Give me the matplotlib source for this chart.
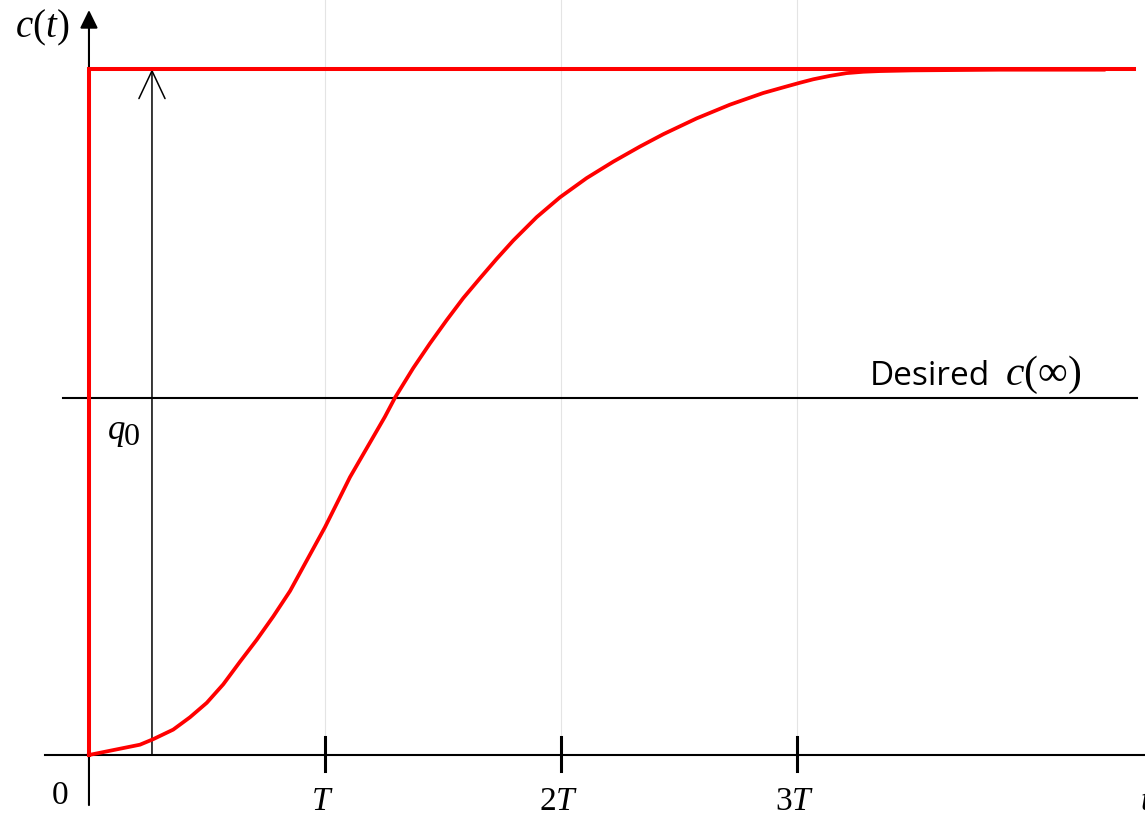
import matplotlib
matplotlib.use("Agg")
import matplotlib.pyplot as plt

plt.rcParams['mathtext.fontset'] = 'custom'
plt.rcParams['mathtext.rm'] = 'Liberation Serif'
plt.rcParams['mathtext.it'] = 'Liberation Serif:italic'

# time in units of T, response normalised to the step height
t_resp = [0.0, 0.216, 0.272, 0.357, 0.428, 0.499, 0.569, 0.640, 0.711, 0.781,
          0.852, 0.922, 1.0, 1.064, 1.106, 1.254, 1.297, 1.374, 1.445, 1.516,
          1.586, 1.657, 1.727, 1.798, 1.897, 1.996, 2.109, 2.222, 2.335, 2.434,
          2.575, 2.716, 2.857, 2.95, 3.013, 3.069, 3.14, 3.21, 3.281, 3.352,
          3.49, 3.86, 4.3]
c_resp = [0.0, 0.015, 0.023, 0.037, 0.055, 0.076, 0.103, 0.136, 0.168, 0.202,
          0.239, 0.283, 0.332, 0.376, 0.405, 0.493, 0.521, 0.564, 0.600, 0.634,
          0.666, 0.695, 0.723, 0.750, 0.784, 0.813, 0.841, 0.865, 0.887, 0.905,
          0.928, 0.948, 0.965, 0.974, 0.980, 0.985, 0.990, 0.994, 0.996, 0.997,
          0.998, 0.999, 0.999]
t_step = [0.0, 0.0, 4.43]
c_step = [0.0, 1.0, 1.0]
desired = 0.52
q0_pos = 0.267
tick_pos = [1, 2, 3]
tick_labels = [r'$T$', r'$2T$', r'$3T$']

RED = '#ff0000'

fig = plt.figure(figsize=(11.45, 8.17), dpi=100)
ax = fig.add_axes([0, 0, 1, 1])
ax.set_xlim(-0.377, 4.475)
ax.set_ylim(-0.0904, 1.1006)
ax.axis('off')

# faint guide lines
for x in tick_pos:
    ax.plot([x, x], [0.026, 1.1006], color='#e4e4e4', lw=0.8, zorder=1)

# axes
ax.plot([-0.188, 4.475], [0, 0], color='black', lw=1.5, zorder=2)
ax.annotate('', xy=(0, 1.086), xytext=(0, -0.073),
            arrowprops=dict(arrowstyle='-|>,head_length=0.55,head_width=0.27',
                            mutation_scale=20, lw=1.5, color='black',
                            shrinkA=0, shrinkB=0), zorder=2)
for x in tick_pos:
    ax.plot([x, x], [-0.023, 0.026], color='black', lw=2.2, zorder=2)

# desired level
ax.plot([-0.11, 4.44], [desired, desired], color='black', lw=1.5, zorder=2)

# q0 arrow
ax.annotate('', xy=(q0_pos, 1.0), xytext=(q0_pos, 0.0),
            arrowprops=dict(arrowstyle='->,head_length=1.0,head_width=0.47',
                            mutation_scale=20, lw=1.1, color='black',
                            shrinkA=0, shrinkB=0), zorder=2)

# responses
ax.plot(t_step, c_step, color=RED, lw=2.9, zorder=3, solid_joinstyle='miter')
ax.plot(t_resp, c_resp, color=RED, lw=2.7, zorder=3, solid_joinstyle='round')

# labels
fs = 24
ax.text(-0.199, 1.06, r'$c(t)$', fontsize=28, ha='center', va='center')
ax.text(-0.123, -0.058, r'$0$', fontsize=fs, ha='center', va='center')
for x, lab in zip(tick_pos, tick_labels):
    ax.text(x - 0.01, -0.066, lab, fontsize=fs, ha='center', va='center')
ax.text(4.453, -0.066, r'$t$', fontsize=fs, ha='left', va='center')
ax.text(0.081, 0.461, 'q', fontsize=25, family='Liberation Serif', style='italic',
        ha='left', va='baseline')
ax.text(0.146, 0.452, '0', fontsize=23, family='Liberation Serif',
        ha='left', va='baseline')
ax.text(3.309, 0.539, 'Desired', fontsize=24, family='Open Sans',
        ha='left', va='baseline')
ax.text(3.88, 0.539, r'$c(\infty)$', fontsize=30, ha='left', va='baseline')

fig.savefig('out.png', dpi=100)
